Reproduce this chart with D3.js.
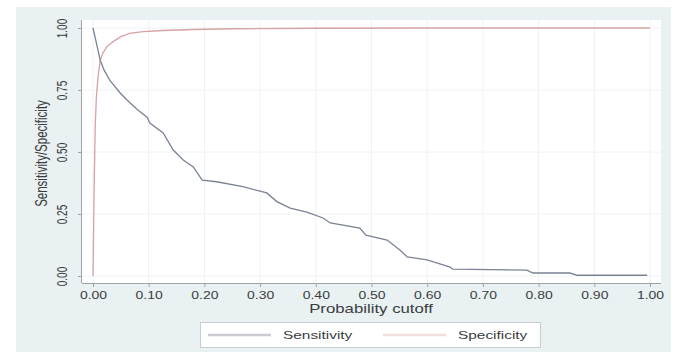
<!DOCTYPE html>
<html>
<head>
<meta charset="utf-8">
<script src="https://cdn.jsdelivr.net/npm/d3@7"></script>
<style>
  html, body { margin: 0; padding: 0; background: #ffffff; }
  svg { display: block; font-family: "Liberation Sans", Arial, sans-serif; }
</style>
</head>
<body>
<svg id="chart" width="677" height="358"></svg>
<script>
// Probability cutoffs and the sensitivity / specificity at each cutoff
const sensCutoff = [0, 0.004, 0.008, 0.013, 0.02, 0.03, 0.048, 0.061, 0.08, 0.097, 0.102, 0.126, 0.144, 0.162, 0.18, 0.196, 0.222, 0.269, 0.312, 0.33, 0.354, 0.384, 0.413, 0.426, 0.479, 0.49, 0.528, 0.551, 0.564, 0.6, 0.641, 0.646, 0.779, 0.79, 0.856, 0.869, 0.995];
const sensitivity = [1.0, 0.96, 0.92, 0.87, 0.83, 0.79, 0.74, 0.71, 0.67, 0.64, 0.617, 0.577, 0.508, 0.468, 0.44, 0.387, 0.38, 0.36, 0.335, 0.30, 0.274, 0.258, 0.234, 0.214, 0.193, 0.165, 0.145, 0.105, 0.077, 0.065, 0.036, 0.028, 0.024, 0.012, 0.012, 0.003, 0.003];

const specCutoff = [0, 0.002, 0.004, 0.006, 0.009, 0.013, 0.018, 0.025, 0.036, 0.05, 0.066, 0.09, 0.126, 0.18, 0.25, 0.4, 0.6, 1.0];
const specificity = [0, 0.35, 0.6, 0.72, 0.8, 0.87, 0.9, 0.925, 0.945, 0.965, 0.978, 0.985, 0.99, 0.994, 0.997, 0.999, 1.0, 1.0];

const xTicks = [0, 0.1, 0.2, 0.3, 0.4, 0.5, 0.6, 0.7, 0.8, 0.9, 1.0];
const yTicks = [0, 0.25, 0.5, 0.75, 1.0];

const seriesNames = ["Sensitivity", "Specificity"];
const seriesColors = ["#7a8294", "#d7a2a2"];

// Text is set wide: horizontal stretch applied to every label
const SX = 1.4;
const textColor = "#3a3d40";

const svg = d3.select("#chart");

// Graph region and plot region
svg.append("rect").attr("x", 16).attr("y", 7).attr("width", 655).attr("height", 345)
  .attr("fill", "#eaf1f3");
const plot = { left: 82, top: 20, right: 661, bottom: 283 };
svg.append("rect").attr("x", plot.left).attr("y", plot.top)
  .attr("width", plot.right - plot.left).attr("height", plot.bottom - plot.top)
  .attr("fill", "#ffffff");

const x = d3.scaleLinear().domain([0, 1]).range([93, 650]);
const y = d3.scaleLinear().domain([0, 1]).range([276, 28]);

// Grid lines
const grid = svg.append("g");
grid.selectAll(".gx").data(xTicks).join("line")
  .attr("x1", d => x(d)).attr("x2", d => x(d))
  .attr("y1", plot.top).attr("y2", plot.bottom)
  .attr("stroke", "#eef2f4").attr("stroke-width", 1);
grid.selectAll(".gy").data(yTicks).join("line")
  .attr("x1", plot.left).attr("x2", plot.right)
  .attr("y1", d => y(d)).attr("y2", d => y(d))
  .attr("stroke", "#eef2f4").attr("stroke-width", 1);

// Axes
const xAxis = d3.axisBottom(x).tickValues(xTicks).tickFormat(d3.format(".2f"))
  .tickSize(4).tickSizeOuter(0);
const gx = svg.append("g").attr("transform", `translate(0,${plot.bottom})`).call(xAxis);
gx.select(".domain").attr("d", `M${plot.left},0.5H${plot.right}`).attr("stroke", "#a0a4a8");
gx.selectAll(".tick line").attr("stroke", "#a0a4a8");
gx.selectAll(".tick text")
  .attr("font-size", 10).attr("fill", textColor)
  .attr("y", 0).attr("dy", 0)
  .attr("transform", `translate(0,16) scale(${SX},1)`);

const yAxis = d3.axisLeft(y).tickValues(yTicks).tickFormat(d3.format(".2f"))
  .tickSize(4).tickSizeOuter(0);
const gy = svg.append("g").attr("transform", `translate(${plot.left},0)`).call(yAxis);
gy.select(".domain").attr("d", `M-0.5,${plot.top}V${plot.bottom}`).attr("stroke", "#a0a4a8");
gy.selectAll(".tick line").attr("stroke", "#a0a4a8");
gy.selectAll(".tick text")
  .attr("font-size", 10).attr("fill", textColor)
  .attr("x", 0).attr("dy", 0)
  .attr("text-anchor", "middle")
  .attr("transform", `translate(-15,0) scale(${SX},1) rotate(-90)`);

// Axis titles
svg.append("text")
  .attr("transform", `translate(371,313) scale(${SX},1)`)
  .attr("text-anchor", "middle").attr("font-size", 12).attr("fill", textColor)
  .text("Probability cutoff");
svg.append("text")
  .attr("transform", `translate(47,${(plot.top + plot.bottom) / 2 + 2}) scale(${SX},1) rotate(-90)`)
  .attr("text-anchor", "middle").attr("font-size", 11.5).attr("fill", textColor)
  .text("Sensitivity/Specificity");

// Curves
const line = d3.line().x(d => x(d[0])).y(d => y(d[1]));
const sensData = d3.zip(sensCutoff, sensitivity);
const specData = d3.zip(specCutoff, specificity);
svg.append("path").datum(specData).attr("d", line)
  .attr("fill", "none").attr("stroke", seriesColors[1]).attr("stroke-width", 1.3);
svg.append("path").datum(sensData).attr("d", line)
  .attr("fill", "none").attr("stroke", seriesColors[0]).attr("stroke-width", 1.3);

// Legend
const lg = svg.append("g");
lg.append("rect").attr("x", 200.5).attr("y", 322.5).attr("width", 340).attr("height", 25)
  .attr("fill", "#ffffff").attr("stroke", "#c8cdd0");
const legendItems = [
  { name: seriesNames[0], color: "#c9ccd2", x0: 208 },
  { name: seriesNames[1], color: "#f1dede", x0: 383 }
];
legendItems.forEach(it => {
  lg.append("line").attr("x1", it.x0).attr("x2", it.x0 + 63)
    .attr("y1", 335).attr("y2", 335)
    .attr("stroke", it.color).attr("stroke-width", 2.5);
  lg.append("text")
    .attr("transform", `translate(${it.x0 + 75},339) scale(${SX},1)`)
    .attr("font-size", 11).attr("fill", textColor).text(it.name);
});
</script>
</body>
</html>
